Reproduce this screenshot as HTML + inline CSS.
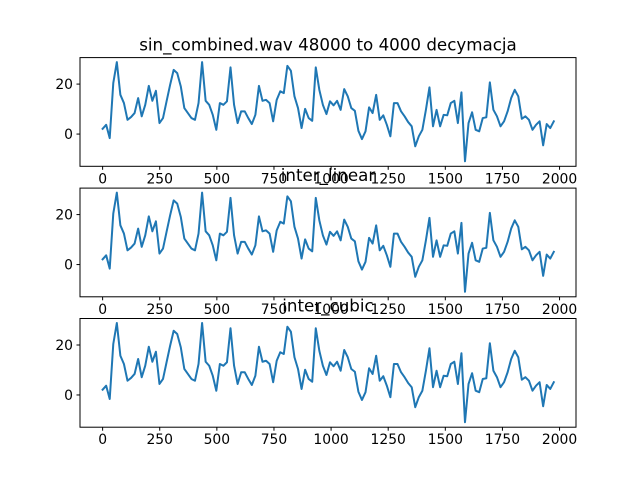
<!DOCTYPE html>
<html><head><meta charset="utf-8"><style>
html,body{margin:0;padding:0;background:#fff}
svg{display:block;font-family:"DejaVu Sans","Liberation Sans",sans-serif}
</style></head><body>
<svg id="fig" width="640" height="480" viewBox="0 0 640 480"></svg>
<script>
const tickX = [0, 250, 500, 750, 1000, 1250, 1500, 1750, 2000];
const tickY = [0, 20];
const titles = ["sin_combined.wav 48000 to 4000 decymacja", "inter_linear", "inter_cubic"];
const sampleStep = 15.55;
const decimated = [2.1,3.7,-1.6,20.4,28.8,15.7,12.4,5.7,6.8,8.4,14.4,7.1,11.7,19.3,13.3,17.3,4.4,6.4,13.1,19.7,25.7,24.4,19.1,10.4,8.4,6.4,5.7,12.4,28.8,13.3,11.7,7.7,1.7,
12.4,11.7,13.1,26.7,11.7,4.4,9.1,9.1,6.4,4.0,7.7,19.3,13.3,13.7,12.4,5.1,13.7,17.1,16.4,27.3,25.3,15.1,10.4,2.4,10.1,6.4,5.3,26.7,17.7,11.7,8.0,13.1,11.5,
13.3,9.7,18.0,15.1,10.4,9.3,1.3,-2.0,1.1,10.7,8.4,15.7,5.7,7.5,3.7,-0.9,12.4,12.4,9.1,7.1,4.8,3.1,-4.9,-0.9,1.7,9.7,18.7,3.1,9.7,3.1,7.7,7.5,12.4,
13.3,4.4,16.7,-10.9,4.4,8.7,1.7,1.1,6.4,6.7,20.7,9.7,7.1,3.1,5.1,9.1,14.4,17.7,15.1,6.1,7.1,5.7,1.7,3.7,5.1,-4.5,4.0,2.4,5.1];
const interLinear = decimated.slice();
const interCubic = decimated.slice();
const seriesList = [decimated, interLinear, interCubic];

const NS = "http://www.w3.org/2000/svg";
const svg = document.getElementById('fig');
function mk(tag, attrs, parent){const e=document.createElementNS(NS,tag);for(const k in attrs)e.setAttribute(k,attrs[k]);(parent||svg).appendChild(e);return e;}
const L=80,R=576,xmin=-99,xmax=2072;
const tops=[57.6,188.1,318.5],H=108.7,ymin=-12.9,ymax=30.6;
function sx(v){return L+(v-xmin)/(xmax-xmin)*(R-L);}
seriesList.forEach((vals,p)=>{
  const T=tops[p],B=T+H;
  const sy=v=>B-(v-ymin)/(ymax-ymin)*H;
  const g=mk('g',{});
  
  
  const pts=vals.map((v,i)=>sx(i*sampleStep).toFixed(2)+','+sy(v).toFixed(2)).join(' ');
  const line=mk('polyline',{points:pts,fill:'none',stroke:'#1f77b4','stroke-width':2,'stroke-linejoin':'round','stroke-linecap':'square'},g);
  
  
  const fr=mk('rect',{x:L,y:T,width:R-L,height:H,fill:'none',stroke:'#000','stroke-width':1},g);
  
  
  tickX.forEach(t=>{
    const x=sx(t);
    mk('line',{x1:x,x2:x,y1:B,y2:B+3.5,stroke:'#000','stroke-width':1},g);
    const tx=mk('text',{x:x,y:B+17,'text-anchor':'middle','font-size':'13.9px',fill:'#000'},g);
    tx.textContent=t;
    
    
  });
  tickY.forEach(t=>{
    const y=sy(t);
    mk('line',{x1:L-3.5,x2:L,y1:y,y2:y,stroke:'#000','stroke-width':1},g);
    const tx=mk('text',{x:L-7,y:y+5,'text-anchor':'end','font-size':'13.9px',fill:'#000'},g);
    tx.textContent=t;
    
    
  });
  const tt=mk('text',{x:(L+R)/2,y:T-7,'text-anchor':'middle','font-size':'16.7px',fill:'#000'},g);
  tt.textContent=titles[p];
  
  
});
</script>
</body></html>
